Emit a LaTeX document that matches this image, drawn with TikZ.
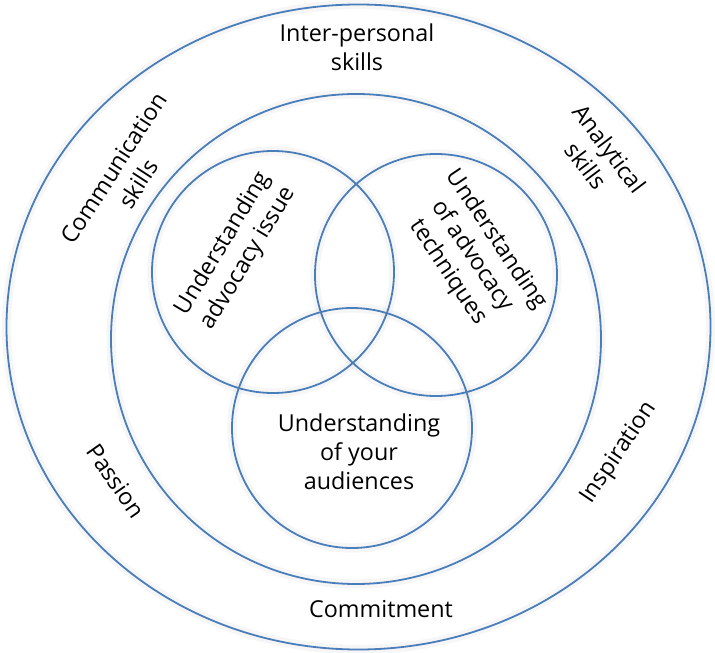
\documentclass[tikz,border=0pt]{standalone}
\usepackage{fontspec}
\setmainfont{Open Sans}
\definecolor{ringblue}{RGB}{74,126,187}

\tikzset{every picture/.style={line width=0.75pt}}
\tikzset{
  ring/.style={draw=ringblue, line width=1.35pt},
  glow/.style={draw=black, line width=7pt, draw opacity=0.035},
  lbl/.style={align=center, inner sep=0.75pt, font=\fontsize{17.5}{21.75}\selectfont}
}

\begin{document}
\begin{tikzpicture}[x=0.75pt,y=0.75pt,yscale=-1,xscale=1]
\useasboundingbox (0,0) rectangle (715,653);

%Shape: Ellipse [id:outer]
\draw [glow] (358.5,327) ellipse [x radius=352, y radius=322.5];
\draw [ring] (358.5,327) ellipse [x radius=352, y radius=322.5];
%Shape: Circle [id:inner]
\draw [glow] (356,339) circle [radius=245];
\draw [ring] (356,339) circle [radius=245];
%Shape: Circle [id:issue]
\draw [glow] (273,272) circle [radius=121];
\draw [ring] (273,272) circle [radius=121];
%Shape: Circle [id:techniques]
\draw [glow] (436,275) circle [radius=121];
\draw [ring] (436,275) circle [radius=121];
%Shape: Circle [id:audiences]
\draw [glow] (352,428) circle [radius=120];
\draw [ring] (352,428) circle [radius=120];

% Text Node
\node (interpersonal) at (357,47) [lbl] {Inter-personal\\skills};
% Text Node
\node (communication) at (126,176) [lbl, rotate=57] {Communication\\skills};
% Text Node
\node (analytical) at (598,157) [lbl, rotate=-53] {Analytical\\skills};
% Text Node
\node (passion) at (116,481) [lbl, rotate=-55] {Passion};
% Text Node
\node (inspiration) at (619,453) [lbl, rotate=56] {Inspiration};
% Text Node
\node (commitment) at (381,609) [lbl] {Commitment};
% Text Node
\node (issue) at (236,251) [lbl, rotate=59] {Understanding\\advocacy issue};
% Text Node
\node (techniques) at (472,256) [lbl, rotate=-56] {Understanding\\of advocacy\\techniques};
% Text Node
\node (audiences) at (359,452) [lbl] {Understanding\\of your\\audiences};

\end{tikzpicture}
\end{document}
